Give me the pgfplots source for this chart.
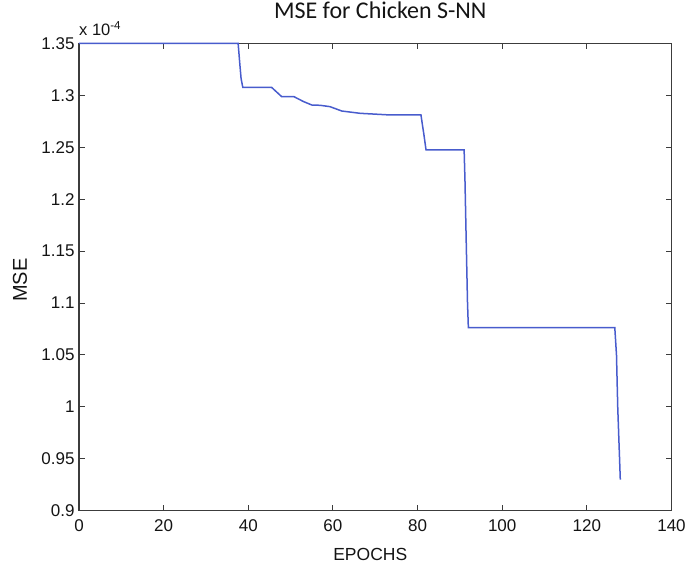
\documentclass[border=0pt]{standalone}
\usepackage{pgfplots}
\pgfplotsset{compat=1.18}
\usepackage{fontspec}
\setmainfont{Liberation Sans}
\newfontfamily\titlefont{Carlito}
\definecolor{lineblue}{RGB}{72,92,205}
\definecolor{axgray}{RGB}{60,60,60}
\begin{document}
\begin{tikzpicture}
\begin{axis}[
  scale only axis,
  width=592.5pt, height=467.4pt,
  xmin=0, xmax=140, ymin=0.9, ymax=1.35,
  xtick={0,20,...,140},
  ytick={0.9,0.95,1,1.05,1.1,1.15,1.2,1.25,1.3,1.35},
  yticklabels={0.9,0.95,1,1.05,1.1,1.15,1.2,1.25,1.3,1.35},
  /pgf/number format/assume math mode=true,
  tick label style={font=\fontsize{17}{20}\selectfont, text=black!92},
  xticklabel style={yshift=-5pt},
  yticklabel style={xshift=-1pt},
  tick align=inside,
  major tick length=6pt,
  every tick/.style={axgray, line width=0.9pt},
  axis line style={axgray, line width=1.2pt},
  xlabel={EPOCHS},
  ylabel={MSE},
  xlabel style={font=\fontsize{17.5}{20}\selectfont, text=black!92, at={(rel axis cs:0.4916,-0.1055)}, anchor=base},
  ylabel style={font=\fontsize{20}{23}\selectfont, text=black!92, at={(rel axis cs:-0.0878,0.4936)}, anchor=base},
  title={MSE for Chicken S-NN},
  title style={font=\titlefont\fontsize{24}{28}\selectfont, text=black!92, at={(rel axis cs:0.5084,1.0392)}, anchor=base},
  clip=false,
]
\addplot[lineblue, line width=1.5pt] coordinates {
(0,1.35) (37.6,1.35) (38.0,1.33) (38.3,1.316) (38.7,1.3076)
(45.5,1.3076) (47.9,1.2986) (50.8,1.2986) (53.0,1.294) (55.0,1.2906)
(57,1.2903) (59.3,1.289) (62.1,1.2848) (66.4,1.2826) (73.5,1.281)
(80.8,1.281) (81.2,1.27) (81.5,1.262) (82,1.2473)
(91,1.2473) (91.2,1.218) (91.5,1.158) (91.8,1.10) (92,1.0762)
(126.6,1.0762) (127.0,1.050) (127.3,0.999) (127.7,0.953) (127.9,0.930)
};
\node[anchor=base west, font=\fontsize{16.5}{19}\selectfont, text=black!92, inner sep=0pt] at (rel axis cs:0,1) [yshift=8pt] {x 10\textsuperscript{-4}};
\coordinate (sw) at (rel axis cs:0,0);
\coordinate (ne) at (rel axis cs:1,1);
\end{axis}
\pgfresetboundingbox
\path[use as bounding box] ([shift={(-79pt,-55.3pt)}]sw) rectangle ([shift={(17.5pt,43.3pt)}]ne);
\end{tikzpicture}
\end{document}
